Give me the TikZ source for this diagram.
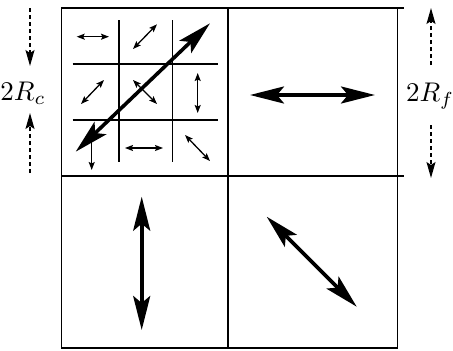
\documentclass[tikz,border=0pt]{standalone}
\usepackage{tikz}
\usetikzlibrary{arrows.meta}

\begin{document}
\begin{tikzpicture}[
		x=1pt,y=-1pt,
		frame/.style={line width=1.4pt,black},
		subgrid/.style={line width=1.2pt,black},
		big arrow/.style={{Stealth[length=34pt,width=17pt,inset=7pt]}-{Stealth[length=34pt,width=17pt,inset=7pt]},line width=3.6pt},
		small arrow/.style={{Stealth[length=8pt,width=6pt,inset=1.5pt]}-{Stealth[length=8pt,width=6pt,inset=1.5pt]},line width=1.3pt},
		radius arrow/.style={-{Stealth[length=16pt,width=9pt,inset=3pt]},line width=1.4pt,dash pattern=on 4pt off 3pt},
		label text/.style={inner sep=0pt}
	]
		\useasboundingbox (0,0) rectangle (453,351);

		% Coarse cells.
		\draw[frame] (61.5,8) rectangle (397.5,348);
		\draw[frame] (228,8) -- (228,348);
		\draw[frame] (61.5,176) -- (404,176);
		\draw[frame] (397.5,8) -- (404,8);

		% Fine grid in the upper left cell.
		\foreach \y in {64,120}
			\draw[subgrid] (72.5,\y) -- (218,\y);
		\foreach \x in {119,172.5}
			\draw[subgrid] (\x,20) -- (\x,162);

		% Small displacements of the fine cells.
		\foreach \xa/\ya/\xb/\yb in {
			76.7/36.7/109/36.7,
			133/49/157/24.3,
			81/104/104/80,
			133/80/157/104,
			197.7/73/197.7/113,
			125/148/163/148,
			185/135/210/161}
			\draw[small arrow] (\xa,\ya) -- (\xb,\yb);
		\draw[small arrow,{Stealth[length=8pt,width=6pt,inset=1.5pt]}-] (91.7,170) -- (91.7,140);

		% Large displacements of the coarse cells.
		\draw[big arrow] (75.7,151.7) -- (210,23.3);
		\draw[big arrow] (250,95) -- (375,95);
		\draw[big arrow] (141.7,196.7) -- (141.7,330);
		\draw[big arrow] (266.7,216.7) -- (356.7,306.7);

		% Cell sizes.
		\node[label text] (Rc) at (23,93) {\scalebox{2.7}{$2R_c$}};
		\coordinate (Rc top) at (30,8);
		\coordinate (Rc bottom) at (30,173);
		\draw[radius arrow] (Rc top) -- (30,66);
		\draw[radius arrow] (Rc bottom) -- (30,113);

		\node[label text] (Rf) at (430,96) {\scalebox{2.7}{$2R_f$}};
		\coordinate (Rf top) at (431,8);
		\coordinate (Rf bottom) at (431,178);
		\draw[radius arrow] (431,65) -- (Rf top);
		\draw[radius arrow] (431,125) -- (Rf bottom);
	\end{tikzpicture}
\end{document}
